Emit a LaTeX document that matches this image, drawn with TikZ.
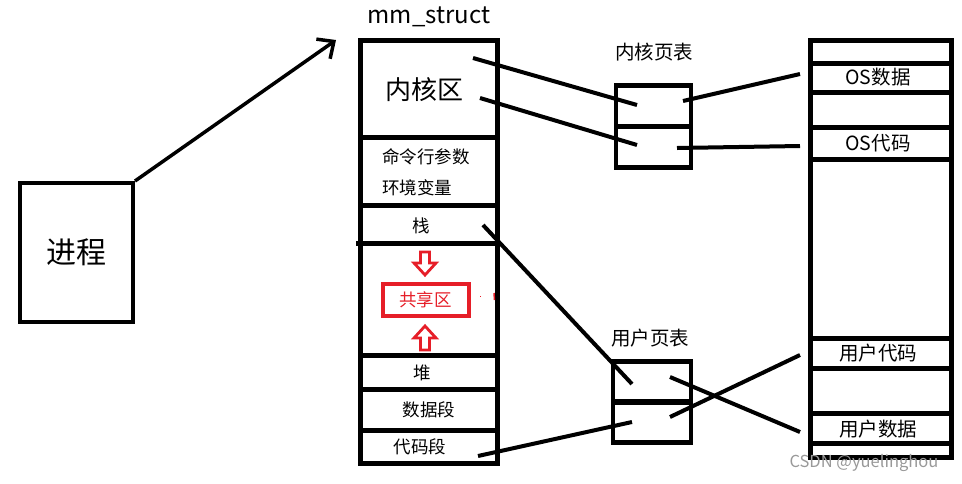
\documentclass[tikz,border=0pt]{standalone}
\usepackage{fontspec}
\setmainfont{Noto Sans CJK SC}
\usetikzlibrary{arrows.meta}
\definecolor{mred}{RGB}{230,30,40}
\begin{document}
\begin{tikzpicture}[x=1pt,y=-1pt,
  box/.style={draw,line width=4.5,inner sep=0},
  conn/.style={line width=4},
  lab/.style={inner sep=0,font=\fontsize{17.5}{18}\selectfont},
  biglab/.style={inner sep=0,font=\fontsize{19.5}{20}\selectfont},
  entry/.style={draw,line width=4.5,minimum width=75,minimum height=41,inner sep=0},
  redarr/.style={draw=mred,line width=2.8,line join=miter}
]
\useasboundingbox (0,0) rectangle (962,483);
% process
\node[box,line width=4,minimum width=113,minimum height=139,font=\fontsize{30}{32}\selectfont] (proc) at (76.5,252.5) {进程};
\coordinate (arrtip) at (336,40);
\draw[line width=3.5,-{Straight Barb[length=13,width=24,line width=3.5]}] (proc.north east) -- (arrtip);
% mm_struct
\node[inner sep=0,font=\fontsize{24}{26}\selectfont] (mmlabel) at (429,17) {mm\_struct};
\node[box,line width=5,minimum width=137,minimum height=423] (mm) at (428.5,251.5) {};
\draw[line width=5] (360,137) -- (497,137);
\draw[line width=5] (360,205) -- (497,205);
\draw[line width=5] (356,243) -- (497,243);
\draw[line width=5] (360,355) -- (497,355);
\draw[line width=5] (360,389) -- (497,389);
\draw[line width=5] (360,430) -- (497,430);
\node[inner sep=0,font=\fontsize{26}{28}\selectfont] (kern) at (424,90) {内核区};
\node[lab,anchor=west] (args) at (382,157) {命令行参数};
\node[lab,anchor=west] (env) at (382,188) {环境变量};
\node[lab] (stack) at (421,226) {栈};
\node[draw=mred,line width=4,minimum width=86,minimum height=32,inner sep=0,text=mred,font=\fontsize{17.5}{18}\selectfont] (shared) at (425.5,300) {共享区};
\draw[redarr] (420.5,252) -- (429.5,252) -- (429.5,263) -- (436,263) -- (425,275) -- (414,263) -- (420.5,263) -- cycle;
\draw[redarr] (420.5,350) -- (429.5,350) -- (429.5,338) -- (436,338) -- (425,326) -- (414,338) -- (420.5,338) -- cycle;
\draw[mred,line width=1] (480,296) -- (481,296);
\draw[mred,line width=1.5] (494,293) -- (494.5,300);
\node[lab] (heap) at (422,373) {堆};
\node[lab] (data) at (429,410) {数据段};
\node[lab] (code) at (420,447) {代码段};
% kernel page table
\node[biglab] (ktlabel) at (654,52) {内核页表};
\node[entry] (kt1) at (653.5,106) {};
\node[entry] (kt2) at (653.5,147) {};
% user page table
\node[biglab] (utlabel) at (650,338) {用户页表};
\node[entry,minimum width=78] (ut1) at (652,382) {};
\node[entry,minimum width=78] (ut2) at (652,422) {};
% physical memory
\node[box,line width=5,minimum width=141,minimum height=417] (phys) at (880.5,248.5) {};
\foreach \yy in {63,92,127,159,338,368,413,443}
  \draw[line width=5] (810,\yy) -- (951,\yy);
\node[biglab] (osdata) at (878,77) {OS数据};
\node[biglab] (oscode) at (878,143) {OS代码};
\node[biglab] (ucode) at (878,353) {用户代码};
\node[biglab] (udata) at (878,429) {用户数据};
% connectors
\coordinate (k1s) at (473,58);
\coordinate (k2s) at (480,98);
\coordinate (k1e) at (637,105);
\coordinate (k2e) at (637,145);
\coordinate (k1r) at (683,101);
\coordinate (k2r) at (677,148);
\coordinate (osd) at (800,74);
\coordinate (osc) at (800,146);
\coordinate (sts) at (483,225);
\coordinate (ste) at (632,384);
\coordinate (cds) at (478,456);
\coordinate (cde) at (632,422);
\coordinate (u1s) at (670,377);
\coordinate (u2s) at (670,417);
\coordinate (udp) at (800,432);
\coordinate (ucp) at (800,355);
\draw[conn] (k1s) -- (k1e);
\draw[conn] (k2s) -- (k2e);
\draw[conn] (k1r) -- (osd);
\draw[conn] (k2r) -- (osc);
\draw[conn] (sts) -- (ste);
\draw[conn] (cds) -- (cde);
\draw[conn] (u1s) -- (udp);
\draw[conn] (u2s) -- (ucp);
% watermark
\node[inner sep=0,text=black!40,font=\fontsize{16.5}{17}\selectfont] (wm) at (864,463) {CSDN @yuelinghou};
\end{tikzpicture}
\end{document}
